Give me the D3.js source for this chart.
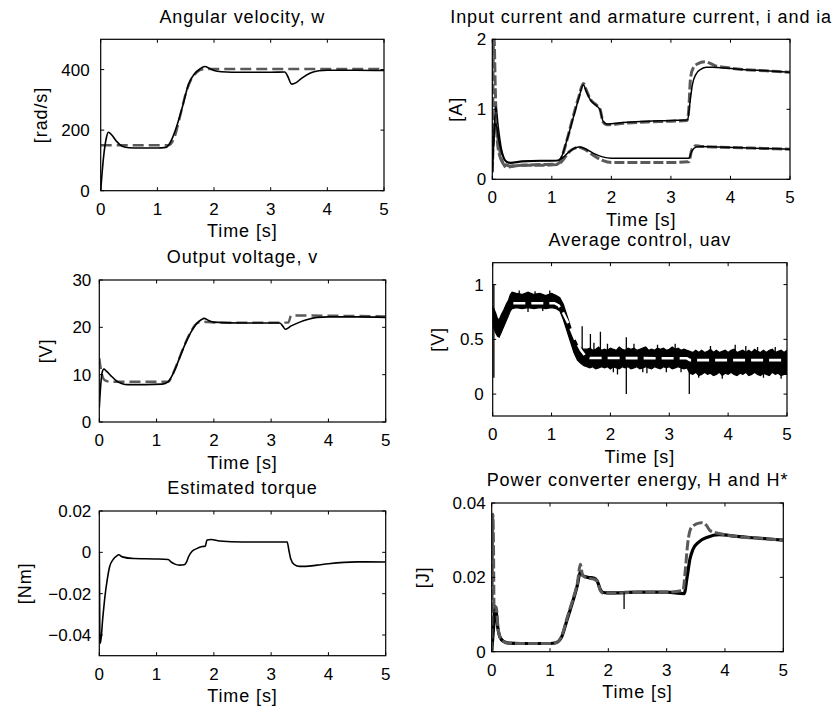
<!DOCTYPE html>
<html><head><meta charset="utf-8">
<script src="https://cdn.jsdelivr.net/npm/d3@7"></script>
<style>
html,body{margin:0;padding:0;background:#fff;}
svg{display:block;}
text{font-family:"Liberation Sans",Arial,Helvetica,sans-serif;fill:#000;}
</style></head>
<body>
<svg id="chart" width="838" height="712"></svg>
<script>
// ---------------- DATA ----------------
const timeTicks = [0, 1, 2, 3, 4, 5];

// Angular velocity, w [rad/s]
const wT    = [0, 0.05, 0.1, 0.135, 0.2, 0.28, 0.38, 0.5, 0.7, 1.0, 1.15, 1.25, 1.35, 1.45, 1.55, 1.65, 1.75, 1.84, 1.92, 2.0, 2.13, 2.5, 3.0, 3.25, 3.3, 3.37, 3.45, 3.55, 3.7, 3.85, 4.0, 4.5, 5.0];
const wMeas = [0, 110, 175, 193, 183, 163, 147, 142, 141, 141, 143, 168, 218, 282, 352, 385, 402, 410, 404, 397, 393, 391, 391, 392, 378, 352, 357, 372, 389, 396, 398, 398, 397];
const wRefT = [0, 1.2, 1.3, 1.4, 1.5, 1.6, 1.7, 1.8, 1.9, 5.0];
const wRef  = [150, 150, 175, 245, 320, 368, 392, 401, 402, 402];

// Input current i and armature current ia [A]
const iT    = [0, 0.03, 0.06, 0.1, 0.15, 0.2, 0.25, 0.3, 0.5, 0.8, 1.1, 1.15, 1.25, 1.35, 1.45, 1.53, 1.58, 1.65, 1.75, 1.81, 1.86, 1.92, 2.2, 2.6, 3.0, 3.28, 3.32, 3.36, 3.42, 3.5, 3.6, 3.7, 3.9, 4.2, 4.6, 5.0];
const iMeas = [0.1, 0.7, 1.04, 0.75, 0.45, 0.3, 0.25, 0.24, 0.26, 0.27, 0.27, 0.3, 0.55, 0.85, 1.15, 1.35, 1.25, 1.13, 1.05, 0.99, 0.83, 0.79, 0.81, 0.83, 0.84, 0.85, 1.1, 1.35, 1.5, 1.57, 1.6, 1.6, 1.59, 1.57, 1.55, 1.53];
const iRefT = [0, 0.02, 0.03, 0.05, 0.08, 0.12, 0.2, 0.3, 0.5, 0.8, 1.1, 1.15, 1.25, 1.35, 1.45, 1.53, 1.58, 1.65, 1.75, 1.81, 1.86, 1.92, 2.2, 2.6, 3.0, 3.27, 3.3, 3.33, 3.38, 3.45, 3.57, 3.65, 3.75, 3.9, 4.2, 4.6, 5.0];
const iRef  = [0.1, 1.9, 2.0, 1.3, 0.6, 0.35, 0.22, 0.19, 0.2, 0.21, 0.22, 0.28, 0.55, 0.87, 1.17, 1.37, 1.27, 1.14, 1.06, 1.0, 0.82, 0.78, 0.8, 0.82, 0.83, 0.84, 1.0, 1.45, 1.6, 1.65, 1.68, 1.66, 1.62, 1.6, 1.57, 1.55, 1.53];
const iaT    = [0, 0.03, 0.06, 0.1, 0.15, 0.2, 0.25, 0.3, 0.5, 0.8, 1.1, 1.2, 1.3, 1.4, 1.45, 1.55, 1.7, 1.85, 2.0, 2.5, 3.0, 3.3, 3.35, 3.42, 3.5, 3.8, 4.2, 4.6, 5.0];
const iaMeas = [0.1, 0.6, 0.8, 0.6, 0.4, 0.28, 0.24, 0.23, 0.25, 0.26, 0.27, 0.32, 0.4, 0.45, 0.46, 0.44, 0.37, 0.32, 0.3, 0.3, 0.3, 0.3, 0.4, 0.46, 0.47, 0.46, 0.45, 0.44, 0.43];
const iaRef  = [0.1, 0.7, 0.75, 0.55, 0.3, 0.2, 0.17, 0.18, 0.2, 0.2, 0.21, 0.29, 0.4, 0.45, 0.46, 0.43, 0.34, 0.27, 0.24, 0.24, 0.24, 0.25, 0.42, 0.48, 0.47, 0.46, 0.45, 0.44, 0.43];

// Output voltage, v [V]
const vT    = [0, 0.02, 0.05, 0.08, 0.12, 0.2, 0.3, 0.4, 0.5, 0.8, 1.1, 1.2, 1.3, 1.4, 1.5, 1.6, 1.7, 1.78, 1.83, 1.9, 2.0, 2.5, 3.0, 3.15, 3.2, 3.25, 3.35, 3.5, 3.65, 3.8, 4.0, 4.5, 5.0];
const vMeas = [3, 7, 10.5, 11.2, 10.8, 9.8, 8.7, 8.1, 7.9, 7.9, 8.0, 8.5, 10.5, 13.5, 16.5, 19, 20.8, 21.6, 21.9, 21.5, 21.1, 20.9, 20.9, 20.9, 20.3, 19.6, 20.3, 21.1, 21.7, 22.1, 22.2, 22.2, 22.1];
const vRefT = [0, 0.03, 0.06, 0.1, 0.2, 1.2, 1.3, 1.4, 1.5, 1.6, 1.7, 1.8, 2.0, 3.3, 3.35, 5.0];
const vRef  = [13.5, 11, 9.5, 8.8, 8.5, 8.5, 10.6, 13.6, 16.6, 19.1, 20.8, 21.2, 21.0, 21.0, 22.5, 22.3];

// Average control, uav [V]  (black band = envelope of the measured signal)
const uBandT  = [0.00,0.02,0.05,0.08,0.11,0.15,0.19,0.23,0.27,0.30,0.33,0.40,0.50,0.60,0.70,0.80,0.90,1.00,1.08,1.14,1.20,1.26,1.32,1.38,1.44,1.50,1.55,
  1.60,1.65,1.70,1.75,1.80,1.85,1.90,1.95,2.00,2.05,2.10,2.15,2.20,2.25,2.30,2.35,2.40,2.45,2.50,2.55,2.60,2.65,2.70,2.75,2.80,2.85,2.90,2.95,3.00,3.05,3.10,3.15,3.20,3.25,3.30,
  3.35,3.40,3.45,3.50,3.55,3.60,3.65,3.70,3.75,3.80,3.85,3.90,3.95,4.00,4.05,4.10,4.15,4.20,4.25,4.30,4.35,4.40,4.45,4.50,4.55,4.60,4.65,4.70,4.75,4.80,4.85,4.90,4.95,5.00];
const uBandHi = [0.80,0.78,0.74,0.69,0.68,0.73,0.77,0.82,0.86,0.91,0.93,0.92,0.91,0.93,0.91,0.92,0.90,0.92,0.90,0.88,0.82,0.72,0.62,0.52,0.45,0.42,0.41,
  0.41,0.42,0.40,0.41,0.43,0.40,0.41,0.40,0.42,0.41, 0.40,0.43,0.41,0.40,0.42,0.41,0.42,0.40,0.41,0.42, 0.43,0.40,0.41,0.40,0.42,0.41,0.42,0.40,0.41,0.43, 0.41,0.42,0.40,0.41,0.40,
  0.39,0.38,0.40,0.38,0.40,0.38,0.39,0.41,0.38,0.40, 0.38,0.39,0.40,0.38,0.40,0.41,0.38,0.39,0.40,0.38, 0.40,0.38,0.41,0.39,0.38,0.40,0.38,0.40,0.41,0.38, 0.39,0.40,0.38,0.40];
const uBandLo = [0.64,0.60,0.56,0.53,0.52,0.57,0.62,0.67,0.72,0.76,0.78,0.79,0.78,0.79,0.78,0.79,0.78,0.79,0.78,0.76,0.68,0.58,0.48,0.38,0.31,0.28,0.26,
  0.25,0.24,0.25,0.23,0.24,0.25,0.24,0.25,0.23,0.25, 0.24,0.23,0.25,0.24,0.25,0.23,0.24,0.25,0.23,0.24, 0.25,0.24,0.23,0.25,0.24,0.23,0.25,0.24,0.25,0.23, 0.24,0.25,0.24,0.23,0.24,
  0.19,0.18,0.20,0.17,0.18,0.20,0.18,0.19,0.17,0.18, 0.20,0.17,0.19,0.18,0.20,0.18,0.17,0.19,0.18,0.20, 0.17,0.18,0.20,0.18,0.17,0.19,0.18,0.17,0.20,0.18, 0.19,0.17,0.18,0.18];
const uSpikeT  = [0.02, 0.45, 0.60, 0.72, 0.85, 0.97, 1.52, 1.66, 1.72, 1.83, 1.95, 2.05, 2.12, 2.27, 2.40, 2.55, 2.62, 2.80, 2.95, 3.10, 3.20, 3.34, 3.50, 3.70, 3.90, 4.12, 4.30, 4.50, 4.60, 4.80, 4.90];
const uSpikeLo = [0.15, 0.90, 0.75, 0.90, 0.76, 0.90, 0.35, 0.35, 0.38, 0.35, 0.38, 0.20, 0.18, 0.00, 0.38, 0.20, 0.19, 0.39, 0.20, 0.39, 0.20, 0.00, 0.15, 0.38, 0.14, 0.30, 0.37, 0.30, 0.15, 0.37, 0.14];
const uSpikeHi = [1.00, 0.945, 0.80, 0.94, 0.80, 0.945, 0.62, 0.55, 0.47, 0.57, 0.46, 0.25, 0.30, 0.52, 0.46, 0.25, 0.30, 0.45, 0.26, 0.46, 0.25, 0.30, 0.20, 0.44, 0.20, 0.45, 0.44, 0.43, 0.20, 0.43, 0.19];
const uRefT = [0.35, 1.05, 1.12, 1.2, 1.3, 1.4, 1.5, 1.58, 1.65, 3.3, 3.35, 5.0];
const uRef  = [0.83, 0.83, 0.81, 0.74, 0.63, 0.5, 0.4, 0.345, 0.33, 0.327, 0.31, 0.31];

// Estimated torque [Nm]
const tqT = [0, 0.01, 0.02, 0.06, 0.1, 0.14, 0.18, 0.24, 0.3, 0.34, 0.4, 0.6, 1.0, 1.2, 1.26, 1.32, 1.4, 1.48, 1.52, 1.56, 1.62, 1.7, 1.8, 1.85, 1.88, 1.95, 2.1, 2.5, 3.0, 3.28, 3.31, 3.34, 3.4, 3.5, 3.6, 3.8, 4.0, 4.5, 5.0];
const tq  = [0, -0.043, -0.044, -0.032, -0.021, -0.013, -0.007, -0.0035, -0.0018, -0.0012, -0.0022, -0.003, -0.0032, -0.0035, -0.0048, -0.0057, -0.0062, -0.006, -0.0048, -0.002, 0.0005, 0.0018, 0.0028, 0.003, 0.006, 0.0062, 0.0055, 0.005, 0.005, 0.005, 0.001, -0.003, -0.0058, -0.0068, -0.0068, -0.0062, -0.0055, -0.0046, -0.0047];

// Power converter energy, H and H* [J]
const hT    = [0, 0.03, 0.06, 0.08, 0.1, 0.14, 0.2, 0.3, 0.5, 1.0, 1.1, 1.2, 1.3, 1.4, 1.47, 1.52, 1.56, 1.65, 1.75, 1.81, 1.86, 1.9, 2.0, 2.5, 3.0, 3.3, 3.35, 3.4, 3.45, 3.55, 3.7, 3.9, 4.2, 4.6, 5.0];
const hMeas = [0, 0.006, 0.0121, 0.0105, 0.007, 0.004, 0.0028, 0.0023, 0.0022, 0.0022, 0.0024, 0.004, 0.009, 0.014, 0.018, 0.0215, 0.0205, 0.020, 0.0198, 0.019, 0.0168, 0.016, 0.0158, 0.016, 0.016, 0.0156, 0.02, 0.025, 0.0275, 0.0295, 0.0308, 0.0315, 0.031, 0.0305, 0.030];
const hRefT = [0, 0.01, 0.02, 0.03, 0.04, 0.06, 0.08, 0.1, 0.14, 0.2, 0.3, 0.5, 1.0, 1.1, 1.2, 1.3, 1.4, 1.47, 1.52, 1.56, 1.65, 1.75, 1.81, 1.86, 1.9, 2.0, 2.5, 3.0, 3.28, 3.32, 3.36, 3.42, 3.5, 3.6, 3.68, 3.75, 3.9, 4.2, 4.6, 5.0];
const hRef  = [0, 0.02, 0.037, 0.03, 0.012, 0.011, 0.012, 0.008, 0.004, 0.0028, 0.0023, 0.0022, 0.0022, 0.0024, 0.0042, 0.0095, 0.0145, 0.0185, 0.0235, 0.0205, 0.0198, 0.0195, 0.019, 0.0165, 0.0158, 0.0157, 0.016, 0.016, 0.0165, 0.022, 0.029, 0.0333, 0.0343, 0.0347, 0.034, 0.0325, 0.0318, 0.031, 0.0305, 0.030];
const hGlitchT = [2.27], hGlitchLo = [0.0115], hGlitchHi = [0.016];

// ---------------- DRAWING ----------------
const svg = d3.select("#chart");
const BLACK = "#000", GRAY = "#5a5a5a";
const zip = (t, v) => t.map((d, i) => [d, v[i]]);

const panels = [
  {title:"Angular velocity, w", ylab:"[rad/s]", box:[100.7,384,39.3,190.7], ydom:[0,500], yticks:[0,200,400], fmt:d=>d, gap:11, ylx:47,
   series:[{d:zip(wRefT,wRef), c:GRAY, w:2.4, dash:"11,5"}, {d:zip(wT,wMeas), c:BLACK, w:1.6}]},
  {title:"Input current and armature current, i and ia", ylab:"[A]", box:[492.3,790,39.3,179.3], ydom:[0,2], yticks:[0,1,2], fmt:d=>d, gap:6, ylx:462,
   series:[{d:zip(iRefT,iRef), c:GRAY, w:3, dash:"10,3"}, {d:zip(iaT,iaRef), c:GRAY, w:3, dash:"10,3"},
           {d:zip(iT,iMeas), c:BLACK, w:1.5}, {d:zip(iaT,iaMeas), c:BLACK, w:1.5}]},
  {title:"Output voltage, v", ylab:"[V]", box:[99.3,385.7,280,422], ydom:[0,30], yticks:[0,10,20,30], fmt:d=>d, gap:8, ylx:52,
   series:[{d:zip(vRefT,vRef), c:GRAY, w:2.4, dash:"11,5"}, {d:zip(vT,vMeas), c:BLACK, w:1.6}]},
  {title:"Average control, uav", ylab:"[V]", box:[492.7,787,262.7,416], ydom:[-0.2,1.2], yticks:[0,0.5,1], fmt:d=>d, gap:9, ylx:444, band:true},
  {title:"Estimated torque", ylab:"[Nm]", box:[99.3,385.7,511,655.7], ydom:[-0.05,0.02], yticks:[-0.04,-0.02,0,0.02], fmt:d=>d<0?"\u2212"+Math.abs(d):String(d), gap:8, ylx:31,
   series:[{d:zip(tqT,tq), c:BLACK, w:1.6}]},
  {title:"Power converter energy, H and H*", ylab:"[J]", box:[491.7,783.3,503,651.7], ydom:[0,0.04], yticks:[0,0.02,0.04], fmt:d=>d, gap:6, ylx:429,
   series:[{d:zip(hT,hMeas), c:BLACK, w:3.2}, {d:zip(hRefT,hRef), c:GRAY, w:3, dash:"10,3"}], glitch:true}
];

panels.forEach((p, k) => {
  const [x0,x1,y0,y1] = p.box;
  const x = d3.scaleLinear().domain([0,5]).range([x0,x1]);
  const y = d3.scaleLinear().domain(p.ydom).range([y1,y0]);
  const g = svg.append("g");
  const cid = "clip"+k;
  svg.append("clipPath").attr("id",cid).append("rect").attr("x",x0).attr("y",y0).attr("width",x1-x0).attr("height",y1-y0);
  const plot = g.append("g").attr("clip-path",`url(#${cid})`);
  const line = d3.line().x(d=>x(d[0])).y(d=>y(d[1])).curve(d3.curveMonotoneX);

  if (p.band) {
    const band = uBandT.map((t,i)=>[t,uBandHi[i],uBandLo[i]]);
    plot.append("path").attr("d", d3.area().x(d=>x(d[0])).y0(d=>y(d[2])).y1(d=>y(d[1]))(band))
      .attr("fill",BLACK).attr("stroke",BLACK).attr("stroke-width",1.2);
    plot.selectAll("line.sp").data(uSpikeT).join("line")
      .attr("x1",d=>x(d)).attr("x2",d=>x(d))
      .attr("y1",(d,i)=>y(uSpikeLo[i])).attr("y2",(d,i)=>y(uSpikeHi[i]))
      .attr("stroke",BLACK).attr("stroke-width",1.3);
    plot.append("path").attr("d", d3.line().x(d=>x(d[0])).y(d=>y(d[1]))(zip(uRefT,uRef)))
      .attr("fill","none").attr("stroke","#fff").attr("stroke-width",2.6).attr("stroke-dasharray","12,6");
  }
  (p.series||[]).forEach(s => {
    plot.append("path").attr("d", line(s.d)).attr("fill","none")
      .attr("stroke",s.c).attr("stroke-width",s.w).attr("stroke-dasharray",s.dash||null)
      .attr("stroke-linejoin","round");
  });
  if (p.glitch) {
    plot.selectAll("line.gl").data(hGlitchT).join("line")
      .attr("x1",d=>x(d)).attr("x2",d=>x(d))
      .attr("y1",(d,i)=>y(hGlitchLo[i])).attr("y2",(d,i)=>y(hGlitchHi[i]))
      .attr("stroke",BLACK).attr("stroke-width",1.3);
  }

  // box
  g.append("rect").attr("x",x0).attr("y",y0).attr("width",x1-x0).attr("height",y1-y0)
    .attr("fill","none").attr("stroke",BLACK).attr("stroke-width",1.2);
  // inward ticks, all four sides
  const tl = 3.5;
  const tk = g.append("g").attr("stroke",BLACK).attr("stroke-width",1);
  timeTicks.forEach(t => {
    tk.append("line").attr("x1",x(t)).attr("x2",x(t)).attr("y1",y1).attr("y2",y1-tl);
    tk.append("line").attr("x1",x(t)).attr("x2",x(t)).attr("y1",y0).attr("y2",y0+tl);
  });
  p.yticks.forEach(v => {
    tk.append("line").attr("x1",x0).attr("x2",x0+tl).attr("y1",y(v)).attr("y2",y(v));
    tk.append("line").attr("x1",x1).attr("x2",x1-tl).attr("y1",y(v)).attr("y2",y(v));
  });
  // tick labels
  g.selectAll("text.xt").data(timeTicks).join("text").attr("class","xt")
    .attr("x",d=>x(d)).attr("y",y1+24).attr("text-anchor","middle")
    .attr("font-size",17).text(d=>d);
  g.selectAll("text.yt").data(p.yticks).join("text").attr("class","yt")
    .attr("x",x0-p.gap).attr("y",d=>y(d)).attr("dy","0.36em").attr("text-anchor","end")
    .attr("font-size",17).text(p.fmt);
  // labels
  const cx = (x0+x1)/2;
  g.append("text").attr("x",cx).attr("y",y0-16.7).attr("text-anchor","middle")
    .attr("font-size",18).attr("letter-spacing","0.9px").text(p.title);
  g.append("text").attr("x",cx).attr("y",y1+46.5).attr("text-anchor","middle")
    .attr("font-size",18).attr("letter-spacing","0.9px").text("Time [s]");
  g.append("text").attr("transform",`translate(${p.ylx},${(y0+y1)/2}) rotate(-90)`)
    .attr("text-anchor","middle").attr("font-size",18).attr("letter-spacing","0.9px").text(p.ylab);
});
</script>
</body></html>
